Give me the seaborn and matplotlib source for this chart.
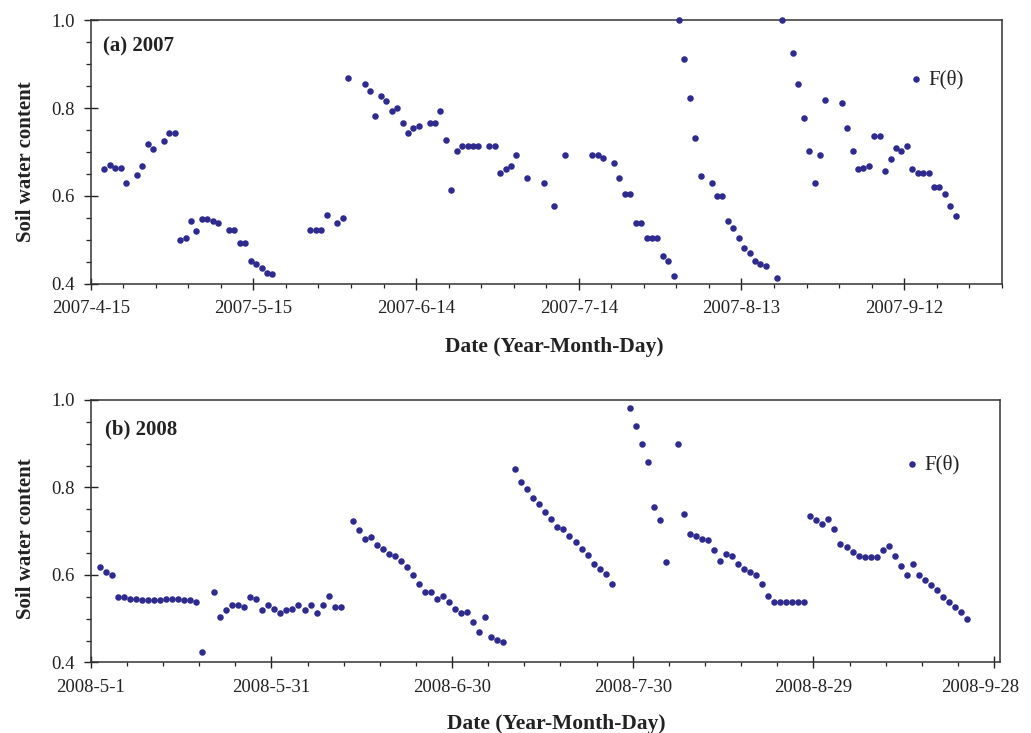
import numpy as np
import pandas as pd
import matplotlib
matplotlib.use("Agg")
import matplotlib.pyplot as plt
import matplotlib.transforms as mtransforms
import seaborn as sns

# ---- 2007 season: days after 2007-04-15 and soil water content F(theta)
days_2007 = [2, 3, 4, 5, 6, 8, 9, 10, 11, 13, 14, 15,
             16, 17, 18, 19, 20, 21, 22, 23, 25, 26, 27, 28, 29, 30, 31, 32, 33,
             40, 41, 42, 43, 45, 46, 47,
             50, 51, 52, 53, 54, 55, 56, 57, 58, 59, 60, 62, 63, 64, 65, 66, 67, 68,
             69, 70, 71, 73, 74, 75, 76, 77, 78, 80, 83, 85, 87,
             92, 93, 94, 96, 97, 98, 99, 100, 101, 102, 103, 104, 105, 106, 107, 108,
             109, 110, 111, 112, 114, 115, 116, 117, 118, 119, 120, 121, 122, 123, 124,
             126, 127, 129, 130,
             131, 132, 133, 134, 135, 138, 139, 140, 141, 142, 143, 144, 145, 146, 147,
             148, 149, 150, 151, 152, 153, 154, 155, 156, 157, 158, 159]
swc_2007 = [0.660, 0.671, 0.664, 0.664, 0.629, 0.648, 0.667, 0.717, 0.706, 0.725, 0.744, 0.744,
            0.500, 0.504, 0.542, 0.519, 0.546, 0.546, 0.542, 0.538, 0.523, 0.523, 0.493, 0.493,
            0.451, 0.444, 0.436, 0.425, 0.421,
            0.523, 0.523, 0.523, 0.557, 0.538, 0.550, 0.869,
            0.854, 0.838, 0.781, 0.827, 0.816, 0.793, 0.800, 0.766, 0.743, 0.754, 0.758, 0.766,
            0.766, 0.793, 0.728, 0.614, 0.702, 0.713, 0.713, 0.713, 0.713, 0.713, 0.713, 0.652,
            0.660, 0.667, 0.694, 0.641, 0.629, 0.576, 0.694,
            0.694, 0.694, 0.687, 0.675, 0.641, 0.603, 0.603, 0.538, 0.538, 0.504, 0.504, 0.504,
            0.462, 0.451, 0.417, 1.000, 0.911, 0.823, 0.732, 0.645, 0.629, 0.599, 0.599, 0.542,
            0.527, 0.504, 0.482, 0.470, 0.451, 0.444, 0.440, 0.413, 1.000, 0.926, 0.854,
            0.777, 0.702, 0.629, 0.694, 0.819, 0.812, 0.754, 0.702, 0.660, 0.664, 0.667, 0.736,
            0.736, 0.656, 0.683, 0.709, 0.702, 0.713, 0.660, 0.652, 0.652, 0.652, 0.621, 0.621,
            0.603, 0.576, 0.553]

# ---- 2008 season: days after 2008-05-01
days_2008 = [1, 2, 3, 4, 5, 6, 7, 8, 9, 10, 11, 12, 13, 14, 15, 16, 17, 18,
             20, 21, 22, 23, 24, 25, 26, 27, 28, 29, 30, 31, 32, 33, 34, 35, 36, 37, 38, 39, 40, 41,
             43, 44, 45, 46, 47, 48, 49, 50, 51, 52, 53, 54, 55, 56, 57, 58, 59, 60, 61, 62, 63,
             64, 65, 66, 67, 68,
             70, 71, 72, 73, 74, 75, 76, 77, 78, 79, 80, 81, 82, 83, 84, 85, 86,
             89, 90, 91, 92, 93, 94, 95,
             97, 98, 99, 100, 101, 102, 103, 104, 105, 106, 107, 108, 109, 110, 111, 112,
             113, 114, 115, 116, 117, 118,
             119, 120, 121, 122, 123, 124, 125, 126, 127, 128, 129, 130, 131, 132, 133, 134,
             135, 136, 137, 138, 139, 140, 141, 142, 143, 144, 145]
swc_2008 = [0.618, 0.606, 0.599, 0.549, 0.549, 0.546, 0.546, 0.542, 0.542, 0.542, 0.542, 0.546,
            0.546, 0.546, 0.542, 0.542, 0.538, 0.424,
            0.561, 0.504, 0.519, 0.531, 0.531, 0.527, 0.550, 0.546, 0.519, 0.531, 0.523, 0.512,
            0.519, 0.523, 0.531, 0.519, 0.531, 0.512, 0.531, 0.553, 0.527, 0.527,
            0.724, 0.702, 0.683, 0.687, 0.668, 0.660, 0.648, 0.644, 0.633, 0.618, 0.599, 0.580,
            0.561, 0.561, 0.546, 0.553, 0.538, 0.523, 0.512, 0.515, 0.493, 0.470, 0.504, 0.459,
            0.451, 0.447,
            0.842, 0.812, 0.796, 0.777, 0.762, 0.743, 0.728, 0.709, 0.706, 0.690, 0.675, 0.660,
            0.645, 0.625, 0.614, 0.602, 0.580,
            0.982, 0.941, 0.899, 0.858, 0.755, 0.725, 0.629,
            0.899, 0.740, 0.694, 0.690, 0.683, 0.679, 0.656, 0.633, 0.648, 0.644, 0.625, 0.614,
            0.606, 0.599, 0.580, 0.553,
            0.538, 0.538, 0.538, 0.538, 0.538, 0.538,
            0.735, 0.725, 0.717, 0.729, 0.706, 0.671, 0.664, 0.652, 0.644, 0.641, 0.641, 0.641,
            0.656, 0.667, 0.644, 0.621, 0.599, 0.625, 0.599, 0.588, 0.576, 0.565, 0.550, 0.538,
            0.527, 0.515, 0.500]

# ---- axis ranges and tick labels
start_2007, end_2007 = "2007-04-15", "2007-09-30"
start_2008, end_2008 = "2008-05-01", "2008-09-29"
xticks_2007 = ["2007-4-15", "2007-5-15", "2007-6-14", "2007-7-14", "2007-8-13", "2007-9-12"]
xticks_2008 = ["2008-5-1", "2008-5-31", "2008-6-30", "2008-7-30", "2008-8-29", "2008-9-28"]
yticks = [0.4, 0.6, 0.8, 1.0]
panel_titles = ["(a) 2007", "(b) 2008"]
series_label = "F(\u03b8)"

sns.set_style("ticks")
plt.rcParams["font.family"] = ["Liberation Serif", "DejaVu Serif"]

DOT = "#2f2a8e"
INK = "#222222"

fig = plt.figure(figsize=(10.31, 7.33), dpi=100)
ax_a = fig.add_axes([0.0880, 0.6132, 0.8836, 0.3591])
ax_b = fig.add_axes([0.0880, 0.0962, 0.8820, 0.3581])


def make_frame(days, values, start):
    dates = pd.Timestamp(start) + pd.to_timedelta(days, unit="D") + pd.Timedelta(hours=12)
    return pd.DataFrame({"date": dates, "swc": values})


panels = [
    (ax_a, make_frame(days_2007, swc_2007, start_2007), start_2007, end_2007, xticks_2007,
     panel_titles[0], (0.0132, 0.900), (0.900, 0.776), (0.5086, -0.203), 0.465),
    (ax_b, make_frame(days_2008, swc_2008, start_2008), start_2008, end_2008, xticks_2008,
     panel_titles[1], (0.0157, 0.889), (0.897, 0.755), (0.5120, -0.196), 0.470),
]

for ax, df, start, end, tick_labels, title, title_xy, leg_xy, xlab_xy, ylab_y in panels:
    sns.scatterplot(data=df, x="date", y="swc", ax=ax, color=DOT, s=22, linewidth=0,
                    label=series_label, clip_on=False, zorder=3)

    ax.set_xlim(pd.Timestamp(start), pd.Timestamp(end))
    ax.set_ylim(0.4, 1.0)

    ax.set_xticks(pd.to_datetime(tick_labels), labels=tick_labels)
    ax.set_xticks(pd.date_range(start, end, freq="6D"), minor=True)
    ax.set_yticks(yticks, labels=[f"{v:.1f}" for v in yticks])
    ax.set_yticks(np.arange(0.4, 1.0001, 0.05), minor=True)

    ax.tick_params(axis="x", which="major", direction="inout", length=8, width=1.0,
                   pad=8, labelsize=13.5, colors=INK)
    ax.tick_params(axis="x", which="minor", direction="out", length=3, width=0.9, colors=INK)
    ax.tick_params(axis="y", which="major", direction="inout", length=10, width=1.0,
                   pad=6.3, labelsize=13.5, colors=INK)
    ax.tick_params(axis="y", which="minor", direction="out", length=3.6, width=0.9, colors=INK)

    for sp in ax.spines.values():
        sp.set_visible(True)
        sp.set_color("#333333")
        sp.set_linewidth(1.1)

    ax.set_xlabel("Date (Year-Month-Day)", fontsize=15.5, fontweight="bold", color=INK)
    ax.xaxis.set_label_coords(*xlab_xy)
    ax.set_ylabel("Soil water content", fontsize=15, fontweight="bold", color=INK)
    ax.yaxis.set_label_coords(-0.060, ylab_y)

    ax.text(title_xy[0], title_xy[1], title, transform=ax.transAxes, fontsize=15,
            fontweight="bold", color=INK, ha="left", va="center")

    ax.legend(loc="center left", bbox_to_anchor=leg_xy, frameon=False, fontsize=15,
              handlelength=0.5, handletextpad=0.37, borderpad=0, borderaxespad=0,
              labelcolor=INK)

# keep the last 2008 date label inside the figure edge
last_label = ax_b.get_xticklabels()[-1]
last_label.set_transform(last_label.get_transform()
                         + mtransforms.ScaledTranslation(-10 / 72, 0, fig.dpi_scale_trans))

fig.savefig("out.png", dpi=100)
